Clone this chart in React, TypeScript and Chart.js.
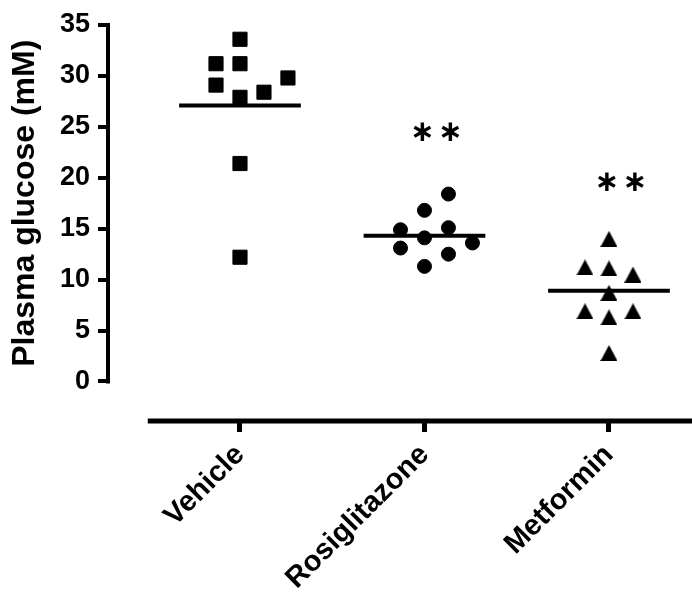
import React, { useEffect, useRef } from 'react';
import { Chart, registerables } from 'chart.js';

Chart.register(...registerables);

const categories = ['Vehicle', 'Rosiglitazone', 'Metformin'];
const yTicks = [0, 5, 10, 15, 20, 25, 30, 35];
const yTitle = 'Plasma glucose (mM)';

const vehicleValues = [33.6, 31.2, 31.2, 29.1, 29.8, 28.4, 27.9, 21.4, 12.2];
const vehicleSpread = [0, -1, 0, -1, 2, 1, 0, 0, 0];
const rosiglitazoneValues = [18.4, 16.8, 14.9, 15.1, 14.1, 13.6, 13.1, 12.5, 11.3];
const rosiglitazoneSpread = [1, 0, -1, 1, 0, 2, -1, 1, 0];
const metforminValues = [14.0, 11.2, 11.1, 10.5, 8.7, 6.9, 6.9, 6.3, 2.8];
const metforminSpread = [0, -1, 0, 1, 0, -1, 1, 0, 0];
const groupMeans = [27.1, 14.3, 8.9];
const significance = ['', '**', '**'];
const significanceY = [0, 24.5, 19.6];

const SPREAD_STEP = 0.13;
const MEAN_HALF = 0.33;
const FONT = '"Liberation Sans", Arial, sans-serif';

function makeTriangle(): HTMLCanvasElement {
  const c = document.createElement('canvas');
  c.width = 17;
  c.height = 16;
  const g = c.getContext('2d')!;
  g.fillStyle = '#000';
  g.beginPath();
  g.moveTo(8.5, 0);
  g.lineTo(17, 16);
  g.lineTo(0, 16);
  g.closePath();
  g.fill();
  return c;
}

const toPoints = (values: number[], spread: number[], group: number) =>
  values.map((v, i) => ({ x: group + 1 + spread[i] * SPREAD_STEP, y: v }));

const prismAxes = {
  id: 'prismAxes',
  afterDraw(chart: any) {
    const { ctx, chartArea } = chart;
    const x = chart.scales.x;
    const y = chart.scales.y;
    const yTop = y.getPixelForValue(yTicks[yTicks.length - 1]);
    const yBottom = y.getPixelForValue(yTicks[0]);
    ctx.save();
    ctx.strokeStyle = '#000';
    ctx.lineCap = 'butt';
    ctx.lineWidth = 4;
    ctx.beginPath();
    ctx.moveTo(chartArea.left, yTop - 2);
    ctx.lineTo(chartArea.left, yBottom + 2);
    ctx.stroke();
    ctx.lineWidth = 5;
    ctx.beginPath();
    ctx.moveTo(x.getPixelForValue(0.5), chartArea.bottom);
    ctx.lineTo(chartArea.right, chartArea.bottom);
    ctx.stroke();

    // y-axis title, centred on the drawn axis line
    ctx.save();
    ctx.fillStyle = '#000';
    ctx.font = `bold 32px ${FONT}`;
    ctx.textAlign = 'center';
    ctx.textBaseline = 'alphabetic';
    ctx.translate(34, (yTop + yBottom) / 2);
    ctx.rotate(-Math.PI / 2);
    ctx.fillText(yTitle, 0, 0);
    ctx.restore();

    // significance stars
    const glyph = '\u2217';
    ctx.font = 'bold 100px "DejaVu Sans"';
    const m = ctx.measureText(glyph);
    const w100 = m.actualBoundingBoxLeft + m.actualBoundingBoxRight;
    const size = (100 * 18) / w100;
    ctx.font = `bold ${size}px "DejaVu Sans"`;
    const mm = ctx.measureText(glyph);
    ctx.fillStyle = '#000';
    ctx.textAlign = 'center';
    ctx.textBaseline = 'alphabetic';
    significance.forEach((s, i) => {
      if (!s) return;
      const cx = x.getPixelForValue(i + 1) + 12;
      const cy = y.getPixelForValue(significanceY[i]);
      const n = s.length;
      for (let k = 0; k < n; k++) {
        const px = cx + (k - (n - 1) / 2) * 28;
        const dy = (mm.actualBoundingBoxAscent - mm.actualBoundingBoxDescent) / 2;
        ctx.fillText(glyph, px, cy + dy);
      }
    });
    ctx.restore();
  },
};

export default function App() {
  const ref = useRef<HTMLCanvasElement>(null);
  useEffect(() => {
    const canvas = ref.current!;
    const tri = makeTriangle();
    const meanSets = groupMeans.map((m, i) => ({
      data: [
        { x: i + 1 - MEAN_HALF, y: m },
        { x: i + 1 + MEAN_HALF, y: m },
      ],
      showLine: true,
      borderColor: '#000',
      borderWidth: 4,
      pointRadius: 0,
      borderCapStyle: 'butt',
    }));
    const chart = new Chart(canvas, {
      type: 'scatter',
      data: {
        datasets: [
          {
            data: toPoints(vehicleValues, vehicleSpread, 0),
            pointStyle: 'rect',
            pointRadius: 10,
            backgroundColor: '#000',
            borderColor: '#000',
            borderWidth: 1,
          },
          {
            data: toPoints(rosiglitazoneValues, rosiglitazoneSpread, 1),
            pointStyle: 'circle',
            pointRadius: 7,
            backgroundColor: '#000',
            borderColor: '#000',
            borderWidth: 1,
          },
          {
            data: toPoints(metforminValues, metforminSpread, 2),
            pointStyle: tri,
            pointRadius: 9,
            backgroundColor: '#000',
            borderColor: '#000',
            borderWidth: 0,
          },
          ...meanSets,
        ] as any,
      },
      options: {
        animation: false,
        responsive: false,
        maintainAspectRatio: false,
        layout: { autoPadding: false, padding: { top: 25, left: 0, right: 0, bottom: 0 } },
        plugins: { legend: { display: false }, tooltip: { enabled: false } },
        scales: {
          x: {
            type: 'linear',
            position: 'bottom',
            min: 0.2846,
            max: 3.45,
            border: { display: false },
            grid: {
              drawOnChartArea: false,
              drawTicks: true,
              tickLength: 11,
              lineWidth: 5,
              color: '#000',
            },
            ticks: {
              autoSkip: false,
              minRotation: 45,
              maxRotation: 45,
              padding: 6,
              color: '#000',
              font: { family: FONT, size: 29, weight: 'bold' },
              callback: (v: any) => categories[Math.round(v) - 1] ?? '',
            },
            afterBuildTicks: (s: any) => {
              s.ticks = categories.map((_, i) => ({ value: i + 1 }));
            },
            afterFit: (s: any) => {
              s.height = 174;
              s.paddingLeft = 0;
              s.paddingRight = 0;
            },
          },
          y: {
            type: 'linear',
            min: -3.88,
            max: 35,
            border: { display: false },
            grid: {
              drawOnChartArea: false,
              drawTicks: true,
              tickLength: 10,
              lineWidth: 4,
              color: '#000',
            },
            ticks: {
              padding: 8,
              color: '#000',
              font: { family: FONT, size: 27, weight: 'bold' },
            },
            afterBuildTicks: (s: any) => {
              s.ticks = yTicks.map((v) => ({ value: v }));
            },
            afterFit: (s: any) => {
              s.width = 108;
            },
          },
        },
      } as any,
      plugins: [prismAxes],
    });
    return () => chart.destroy();
  }, []);
  return (
    <div style={{ position: 'absolute', left: 0, top: 0, width: 692, height: 595 }}>
      <canvas ref={ref} width={692} height={595} style={{ display: 'block' }} />
    </div>
  );
}
